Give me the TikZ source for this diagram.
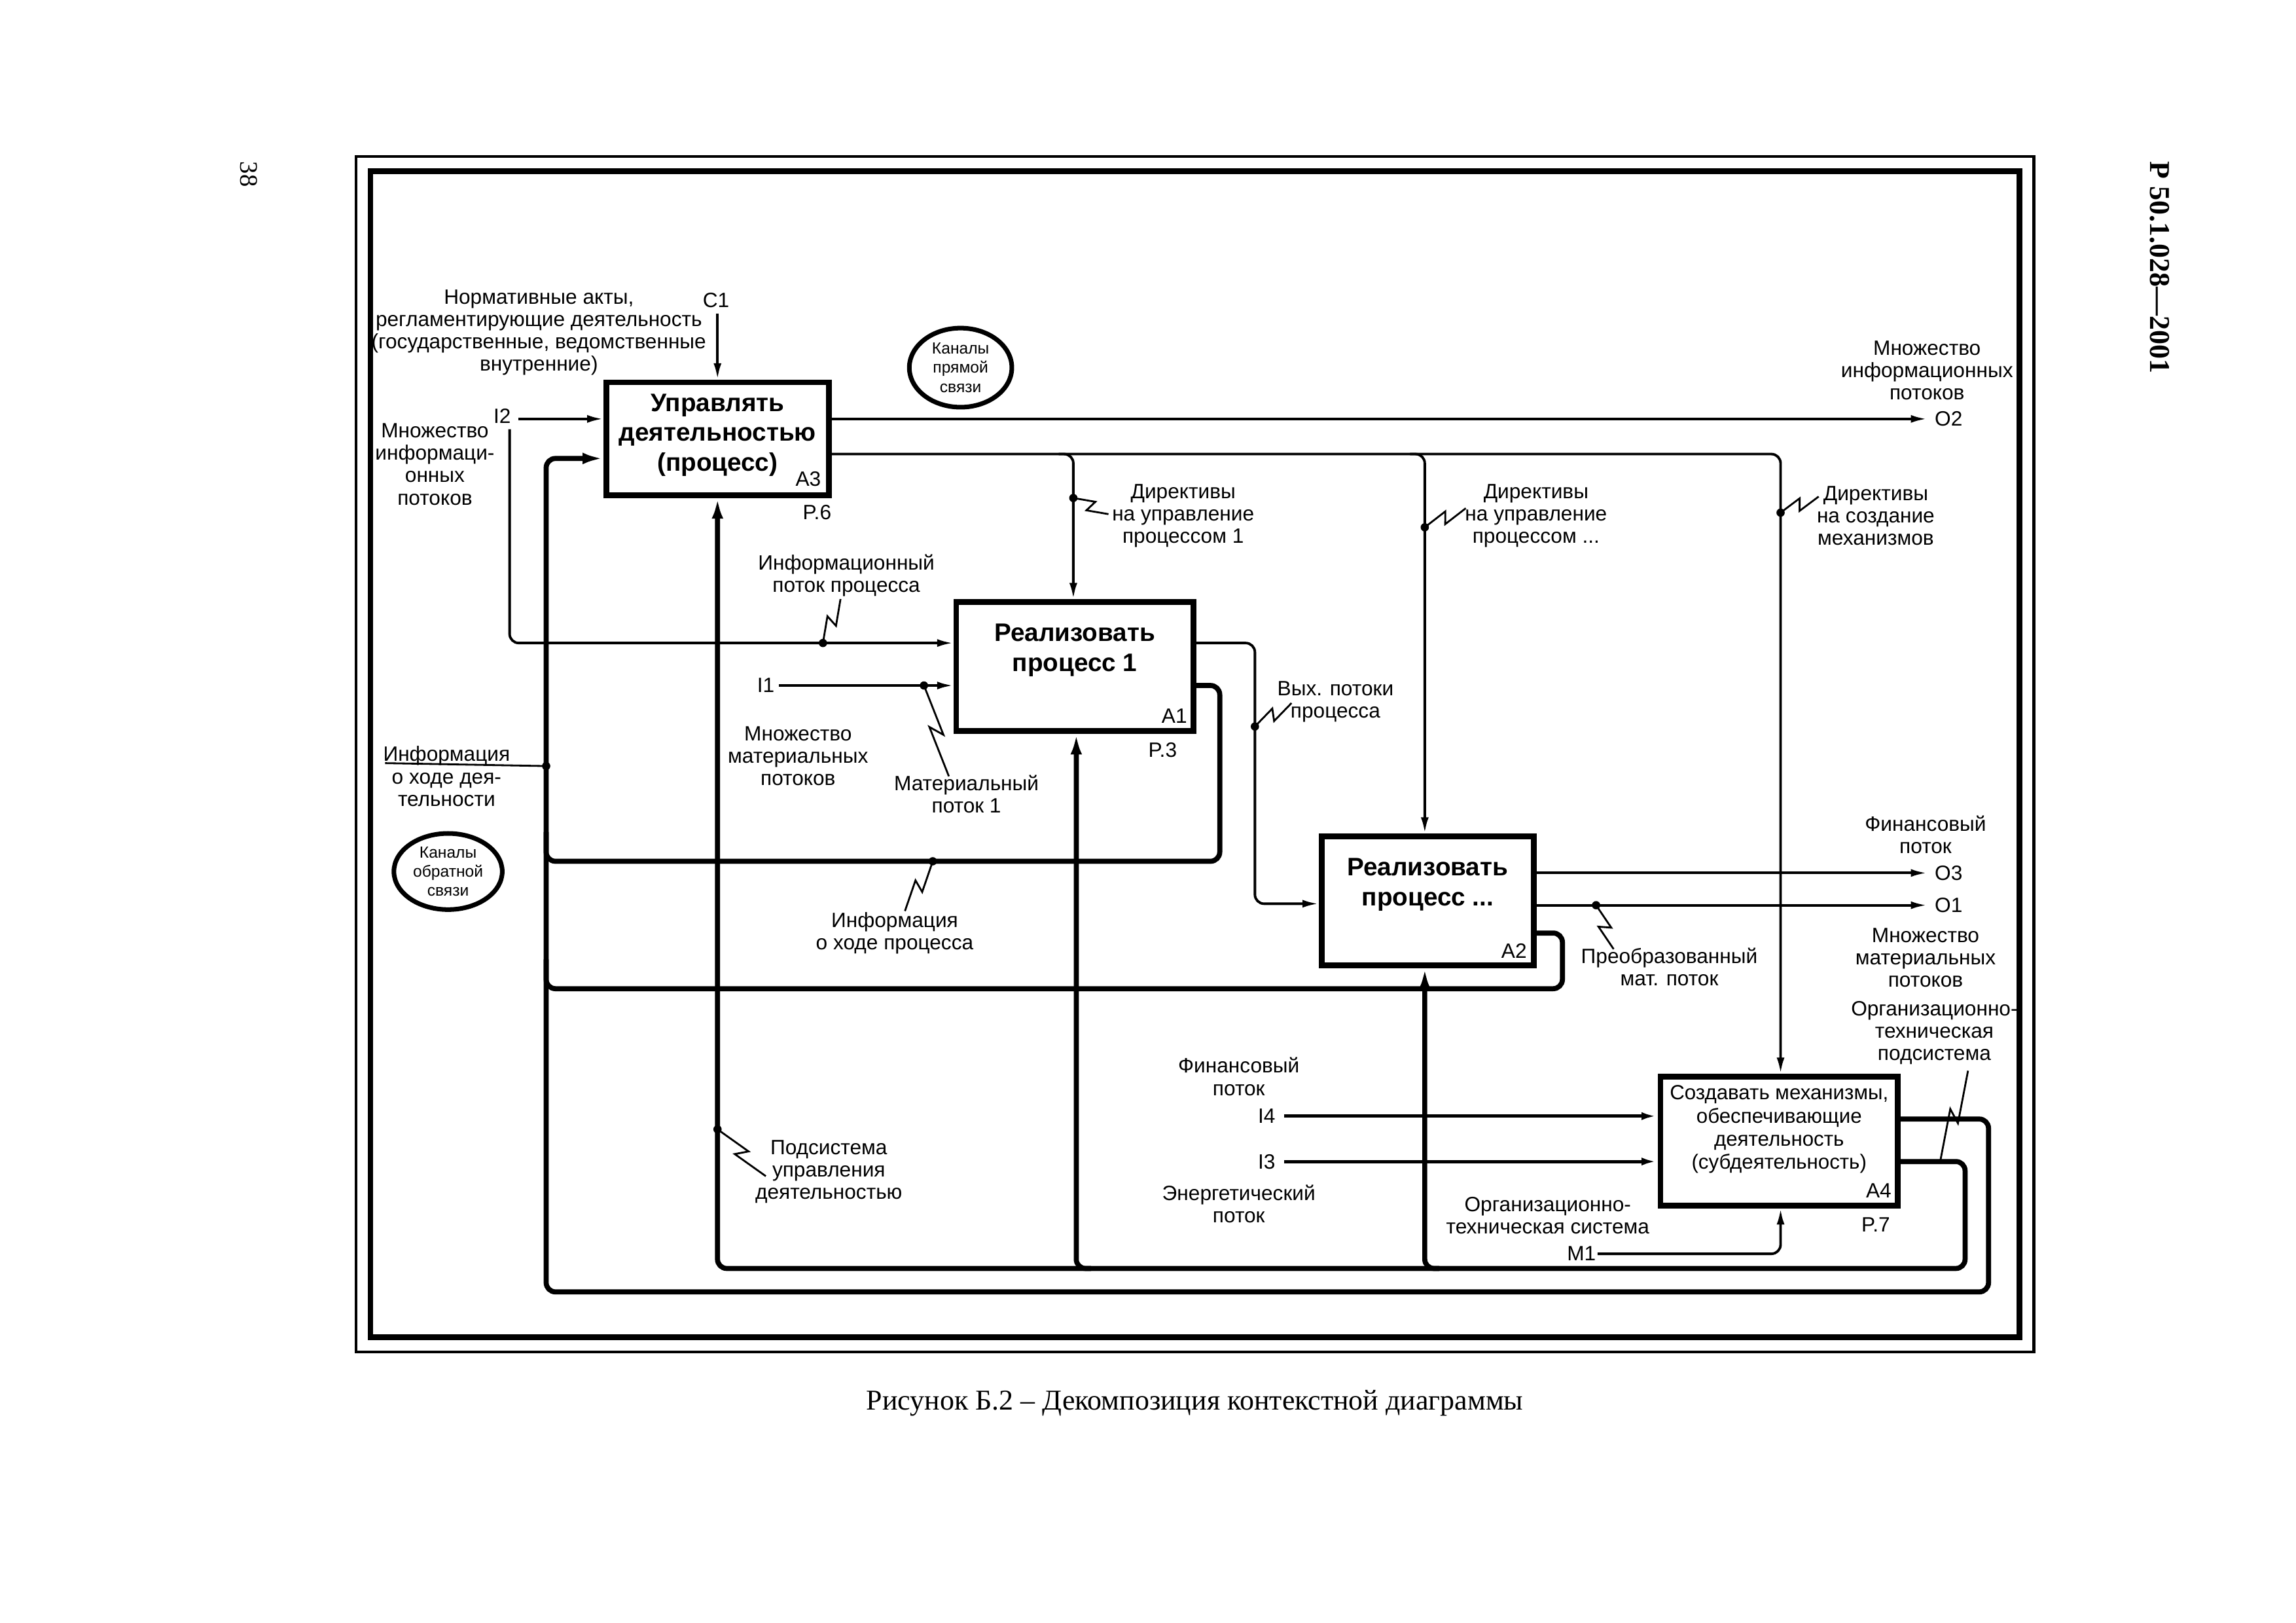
\documentclass[tikz,border=0pt]{standalone}
\usepackage{fontspec}
\setmainfont{Liberation Sans}
\newfontfamily\seriffont{Liberation Serif}
\usetikzlibrary{arrows.meta,shapes.geometric,calc}
\tikzset{
 ln/.style={line width=1.1pt},
 tk/.style={line width=2.2pt},
 md/.style={line width=1.4pt},
 arr/.style={-{Latex[length=7pt,width=3.4pt]}},
 tarr/.style={-{Latex[length=9pt,width=5pt]}},
 rc/.style={rounded corners=4pt},
 sq/.style={line width=0.8pt},
 box/.style={draw, line width=2.5pt, inner sep=0pt},
 btext/.style={font=\fontsize{11}{13}\selectfont\bfseries, align=center, inner sep=0pt},
 ntext/.style={font=\fontsize{8.9}{10}\selectfont, align=center, inner sep=0pt},
 lbl/.style={font=\fontsize{9}{9.7}\selectfont, align=center, inner sep=0pt},
 oval/.style={draw, ellipse, line width=2pt, inner sep=0pt, font=\fontsize{7}{8.3}\selectfont, align=center},
}
\newcommand\squig[2]{\fill (#1) circle (1.8pt);
  \draw[sq] (#1) -- ($(#1)!0.56!(#2)!2.5pt!90:(#2)$) -- ($(#1)!0.44!(#2)!2.5pt!-90:(#2)$) -- (#2);}
\newcommand\squignd[2]{%
  \draw[sq] (#1) -- ($(#1)!0.56!(#2)!2.5pt!90:(#2)$) -- ($(#1)!0.44!(#2)!2.5pt!-90:(#2)$) -- (#2);}
\begin{document}
\begin{tikzpicture}[x=0.02237cm,y=-0.02237cm]
\useasboundingbox (0,0) rectangle (1568,1108);
% frames
\draw[line width=1.2pt] (243,107) rectangle (1389,923);
\draw[line width=2.5pt] (253,117) rectangle (1379,913);
% page texts
\node[font=\seriffont\fontsize{11}{11}\selectfont, rotate=-90, anchor=west, inner sep=0pt] (pg) at (170,110) {38};
\node[font=\seriffont\bfseries\fontsize{12.5}{12.5}\selectfont, rotate=-90, anchor=west, inner sep=0pt] (std) at (1475,110) {Р 50.1.028—2001};
\node[font=\seriffont\fontsize{12.5}{14}\selectfont] (cap) at (816,958) {Рисунок Б.2 – Декомпозиция контекстной диаграммы};

% boxes
\node[box, minimum width=3.400cm, minimum height=1.722cm] (A3) at (490,299.5) {};
\node[box, minimum width=3.624cm, minimum height=1.969cm] (A1) at (734,455) {};
\node[box, minimum width=3.244cm, minimum height=1.969cm] (A2) at (975,615) {};
\node[box, minimum width=3.624cm, minimum height=1.969cm] (A4) at (1215,779) {};
\node[btext] (A3t) at (490,297) {Управлять\\деятельностью\\(процесс)};
\node[btext] (A1t) at (734,444) {Реализовать\\процесс 1};
\node[btext] (A2t) at (975,604) {Реализовать\\процесс ...};
\node[ntext] (A4t) at (1215,771) {Создавать механизмы,\\обеспечивающие\\деятельность\\(субдеятельность)};
\node[lbl] (A3n) at (552,327) {A3};
\node[lbl] (A1n) at (802,489) {A1};
\node[lbl] (A2n) at (1034,649) {A2};
\node[lbl] (A4n) at (1283,813) {A4};
\node[lbl] (P6) at (558,350) {P.6};
\node[lbl] (P3) at (794,512) {P.3};
\node[lbl] (P7) at (1281,836) {P.7};

% ovals
\node[oval, minimum width=1.566cm, minimum height=1.208cm] (kan1) at (656,251) {Каналы\\прямой\\связи};
\node[oval, minimum width=1.655cm, minimum height=1.163cm] (kan2) at (306,595) {Каналы\\обратной\\связи};

% labels
\node[lbl] (norm) at (368,227) {Нормативные акты,\\регламентирующие деятельность\\(государственные, ведомственные\\внутренние)};
\node[lbl] (C1) at (489,205) {C1};
\node[lbl] (I2) at (343,284) {I2};
\node[lbl] (mninf1) at (297,317) {Множество\\информаци-\\онных\\потоков};
\node[lbl, anchor=west] (O2) at (1321,286) {O2};
\node[lbl] (mninf2) at (1316,253) {Множество\\информационных\\потоков};
\node[lbl] (dir1) at (808,352) {Директивы\\на управление\\процессом 1};
\node[lbl] (dir2) at (1049,352) {Директивы\\на управление\\процессом ...};
\node[lbl] (dir3) at (1281,352) {Директивы\\на создание\\механизмов};
\node[lbl] (infpot) at (578,393) {Информационный\\поток процесса};
\node[lbl] (I1) at (523,468) {I1};
\node[lbl] (mnmat1) at (545,516) {Множество\\материальных\\потоков};
\node[lbl] (mat1) at (660,542) {Материальный\\поток 1};
\node[lbl] (vyh) at (912,479) {Вых. потоки\\процесса};
\node[lbl] (infdey) at (305,530) {Информация\\о ходе дея-\\тельности};
\node[lbl] (infproc) at (611,637) {Информация\\о ходе процесса};
\node[lbl] (fin1) at (1315,570) {Финансовый\\поток};
\node[lbl, anchor=west] (O3) at (1321,596) {O3};
\node[lbl, anchor=west] (O1) at (1321,618) {O1};
\node[lbl] (preobr) at (1140,660) {Преобразованный\\мат. поток};
\node[lbl] (mnmat2) at (1315,654) {Множество\\материальных\\потоков};
\node[lbl] (orgpod) at (1321,705) {Организационно-\\техническая\\подсистема};
\node[lbl] (fin2) at (846,735) {Финансовый\\поток};
\node[lbl] (I4) at (865,762) {I4};
\node[lbl] (I3) at (865,793) {I3};
\node[lbl] (energ) at (846,822) {Энергетический\\поток};
\node[lbl] (orgsys) at (1057,830) {Организационно-\\техническая система};
\node[lbl] (M1) at (1080,856) {M1};
\node[lbl] (podsys) at (566,800) {Подсистема\\управления\\деятельностью};

% C1
\coordinate (c1s) at (490,214);
\draw[ln,arr] (c1s) -- (A3.north);
% I2
\coordinate (i2s) at (354,286);
\draw[ln,arr] (i2s) -- (i2s -| A3.west);
\coordinate (i2b) at (348,293);
\coordinate (i2c) at (348,439);
\draw[ln,arr,rc] (i2b) -- (i2c) -- (i2c -| A1.west);
% A3 outputs
\coordinate (o2e) at (1316,286);
\draw[ln,arr] (o2e -| A3.east) -- (o2e);
\coordinate (dirc) at (1216,310);
\draw[ln,arr,rc] (dirc -| A3.east) -- (dirc) -- (dirc |- A4.north);
\coordinate (b1) at (733,310);
\draw[ln,arr,rc] ($(b1)+(-10,0)$) -- (b1) -- (b1 |- A1.north);
\coordinate (b2) at (973,310);
\draw[ln,arr,rc] ($(b2)+(-10,0)$) -- (b2) -- (b2 |- A2.north);
% I1
\coordinate (i1s) at (532,468);
\draw[ln,arr] (i1s) -- (i1s -| A1.west);
% A1 out 1
\coordinate (a1o1) at (857,439);
\coordinate (a1o1b) at (857,617);
\draw[ln,arr,rc] (a1o1 -| A1.east) -- (a1o1) -- (a1o1b) -- (a1o1b -| A2.west);
% A1 out 2
\coordinate (a1o2) at (833,468);
\coordinate (a1o2b) at (833,588);
\coordinate (fbx1) at (373,588);
\draw[tk,rc] (a1o2 -| A1.east) -- (a1o2) -- (a1o2b) -- (fbx1) -- ($(fbx1)+(0,-20)$);
% A2 outputs
\coordinate (o3e) at (1316,596);
\draw[ln,arr] (o3e -| A2.east) -- (o3e);
\coordinate (o1e) at (1316,618);
\draw[ln,arr] (o1e -| A2.east) -- (o1e);
\coordinate (a2o3) at (1067,637);
\coordinate (a2o3b) at (1067,675);
\coordinate (fbx2) at (373,675);
\draw[tk,rc] (a2o3 -| A2.east) -- (a2o3) -- (a2o3b) -- (fbx2) -- ($(fbx2)+(0,-20)$);
% main feedback
\coordinate (fa) at (1358,764);
\coordinate (fb) at (1358,882);
\coordinate (fc) at (373,882);
\coordinate (fd) at (373,313);
\draw[tk,tarr,rc] (fa -| A4.east) -- (fa) -- (fb) -- (fc) -- (fd) -- (fd -| A3.west);
% mechanism
\coordinate (ma) at (1342,793);
\coordinate (mb) at (1342,866);
\coordinate (mc) at (490,866);
\draw[tk,tarr,rc] (ma -| A4.east) -- (ma) -- (mb) -- (mc) -- (A3.south);
\coordinate (mx1) at (735,866);
\draw[tk,tarr,rc] ($(mx1)+(10,0)$) -- (mx1) -- (mx1 |- A1.south);
\coordinate (mx2) at (973,866);
\draw[tk,tarr,rc] ($(mx2)+(10,0)$) -- (mx2) -- (mx2 |- A2.south);
% I4, I3
\coordinate (i4s) at (877,762);
\draw[md,arr] (i4s) -- (i4s -| A4.west);
\coordinate (i3s) at (877,793);
\draw[md,arr] (i3s) -- (i3s -| A4.west);
% M1
\coordinate (m1s) at (1091,856);
\coordinate (m1c) at (1216,856);
\draw[ln,arr,rc] (m1s) -- (m1c) -- (m1c |- A4.south);

% squiggles
\coordinate (d1) at (562,439);  \coordinate (e1) at (574,409);
\coordinate (d2) at (733,340);  \coordinate (e2) at (757,351);
\coordinate (d3) at (973,360);  \coordinate (e3) at (1001,347);
\coordinate (d4) at (1216,350); \coordinate (e4) at (1242,339);
\coordinate (d5) at (631,468);  \coordinate (e5) at (648,530);
\coordinate (d6) at (857,496);  \coordinate (e6) at (882,480);
\coordinate (d7) at (637,588);  \coordinate (e7) at (618,622);
\coordinate (d8) at (1090,618); \coordinate (e8) at (1102,648);
\coordinate (d9) at (490,771);  \coordinate (e9) at (523,803);
\coordinate (s10) at (1325,793); \coordinate (e10) at (1344,731);
\squig{d1}{e1}
\squig{d2}{e2}
\squig{d3}{e3}
\squig{d4}{e4}
\squig{d5}{e5}
\squig{d6}{e6}
\squig{d7}{e7}
\squig{d8}{e8}
\squig{d9}{e9}
\squignd{s10}{e10}
% info о ходе деятельности leader
\coordinate (d11) at (373,523);
\coordinate (e11) at (263,521);
\fill (d11) circle (1.8pt);
\draw[sq] (d11) -- (e11);
\end{tikzpicture}
\end{document}
